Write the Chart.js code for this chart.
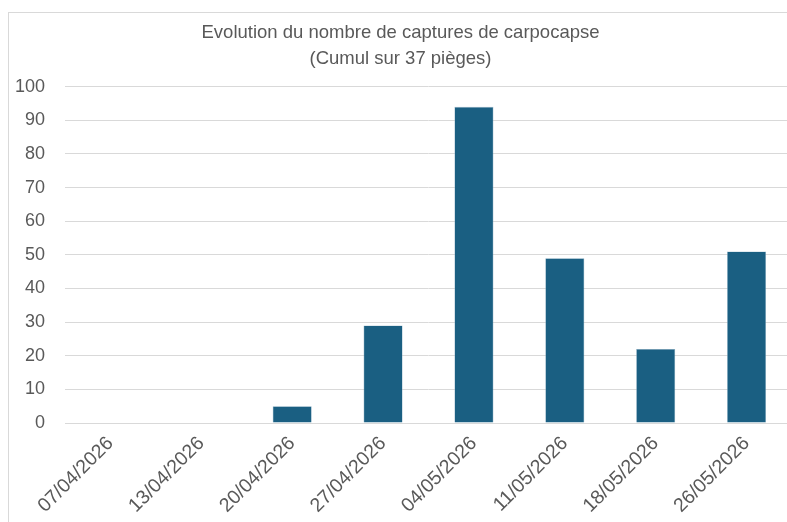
<!DOCTYPE html>
<html>
<head>
<meta charset="utf-8">
<script src="https://cdn.jsdelivr.net/npm/chart.js@4.4.1/dist/chart.umd.min.js"></script>
<style>
  html, body { margin: 0; padding: 0; background: #fff; overflow: hidden; }
  #frame {
    position: absolute; left: 8px; top: 12px;
    width: 794px; height: 520px;
    border: 1px solid #d9d9d9;
  }
</style>
</head>
<body>
<div id="frame"><canvas id="myChart"></canvas></div>
<script>
const ctx = document.getElementById("myChart")

const labels = [
  '07/04/2026',
  '13/04/2026',
  '20/04/2026',
  '27/04/2026',
  '04/05/2026',
  '11/05/2026',
  '18/05/2026',
  '26/05/2026'
]

const captures = [0, 0, 5, 29, 94, 49, 22, 51]

const titleLines = [
  'Evolution du nombre de captures de carpocapse',
  '(Cumul sur 37 pièges)'
]

const textColor = '#595959'
const gridColor = '#d9d9d9'

const data = {
  labels,
  datasets: [{
    data: captures,
    backgroundColor: '#1a5f82',
    borderColor: '#8fb0c4',
    borderWidth: 0.6,
    barPercentage: 0.43,
    categoryPercentage: 1
  }]
}

const config = {
  type: 'bar',
  data: data,
  options: {
    responsive: true,
    maintainAspectRatio: false,
    animation: false,
    layout: { padding: { left: 0, right: 11, top: 0, bottom: 0 } },
    plugins: {
      legend: { display: false },
      tooltip: { enabled: false },
      title: {
        display: true,
        text: titleLines,
        color: textColor,
        font: { family: '"Liberation Sans", Arial, sans-serif', size: 18.5, weight: 'normal', lineHeight: 1.45 },
        padding: { top: 6, bottom: 14 }
      }
    },
    scales: {
      x: {
        grid: { display: false, drawTicks: false },
        border: { color: gridColor },
        ticks: {
          color: textColor,
          font: { family: '"Liberation Sans", Arial, sans-serif', size: 19.5 },
          minRotation: 45,
          maxRotation: 45,
          padding: 9
        },
        afterFit: (scale) => { scale.height = 110 }
      },
      y: {
        min: 0,
        max: 100,
        grid: { color: gridColor, drawTicks: false },
        border: { display: false },
        ticks: {
          stepSize: 10,
          color: textColor,
          font: { family: '"Liberation Sans", Arial, sans-serif', size: 18 },
          padding: 20
        },
        afterFit: (scale) => { scale.width = 56 }
      }
    }
  }
}

const myChart = new Chart(ctx, config)
</script>
</body>
</html>
